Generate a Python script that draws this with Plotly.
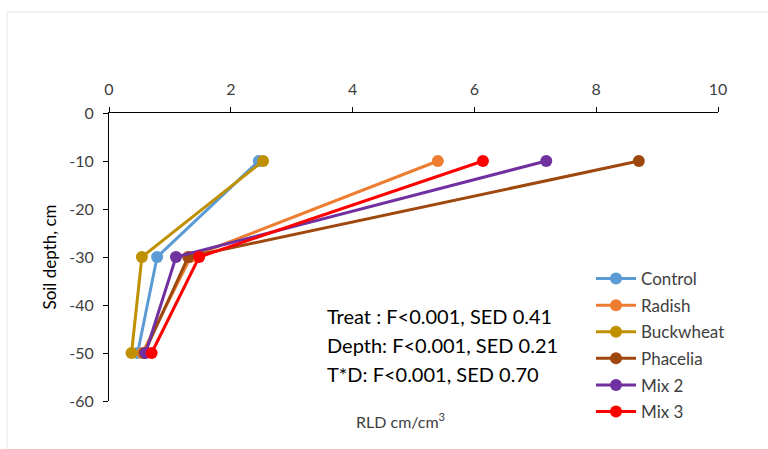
import plotly.graph_objects as go

depths = [0, -10, -30, -50]
depth_pts = [-10, -30, -50]
series_names = ["Control", "Radish", "Buckwheat", "Phacelia", "Mix 2", "Mix 3"]
control = [2.46, 0.79, 0.47]
radish = [5.40, 1.34, 0.55]
buckwheat = [2.53, 0.54, 0.37]
phacelia = [8.70, 1.30, 0.58]
mix2 = [7.18, 1.10, 0.60]
mix3 = [6.14, 1.48, 0.70]
colors = ["#5B9BD5", "#ED7D31", "#BF9000", "#9E480E", "#7030A0", "#FF0000"]
x_ticks = [0, 2, 4, 6, 8, 10]
y_ticks = [0, -10, -20, -30, -40, -50, -60]
y_ticktext = ["0", "-10", "-20", "-30", "-40", "-50", "-60"]
stats_lines = ["Treat : F<0.001, SED 0.41", "Depth: F<0.001, SED 0.21", "T*D: F<0.001, SED 0.70"]

FONT = "Lato, 'Open Sans', sans-serif"

fig = go.Figure()
for i, (name, vals) in enumerate(zip(series_names, [control, radish, buckwheat, phacelia, mix2, mix3])):
    fig.add_trace(go.Scatter(
        x=vals, y=depth_pts, mode="lines+markers", name=name,
        line=dict(color=colors[i], width=3),
        marker=dict(color=colors[i], size=12),
        legendgroup=name,
    ))

L, R, T, B = 109, 50, 113, 48
W, H = 768, 449
pw, ph = W - L - R, H - T - B

def px(xp):
    return (xp - L) / pw

def py(yp):
    return (H - B - yp) / ph

fig.update_layout(
    width=W, height=H,
    margin=dict(l=L, r=R, t=T, b=B),
    paper_bgcolor="white", plot_bgcolor="white",
    font=dict(family=FONT, size=16, color="#404040"),
    showlegend=True,
    legend=dict(x=px(591), y=py(261), xanchor="left", yanchor="top",
                font=dict(size=17, color="#404040"), tracegroupgap=1.5,
                bgcolor="rgba(0,0,0,0)", itemwidth=40),
    xaxis=dict(range=[0, 10], side="top", tickvals=x_ticks, showgrid=False, zeroline=False,
               showline=True, linecolor="#000000", linewidth=1, ticks="outside", ticklen=5,
               tickcolor="#000000", tickfont=dict(size=16, color="#404040"), ticklabelstandoff=6),
    yaxis=dict(range=[-60, 0], tickvals=y_ticks, ticktext=y_ticktext, showgrid=False, zeroline=False,
               showline=True, linecolor="#000000", linewidth=1, ticks="outside", ticklen=5,
               tickcolor="#000000", tickfont=dict(size=16, color="#404040"), ticklabelstandoff=6,
               title=dict(text="Soil depth, cm", font=dict(size=17, color="#000000"), standoff=8)),
)

for k, txt in enumerate(stats_lines):
    fig.add_annotation(xref="paper", yref="paper", x=px(325), y=py(316 + 29 * k),
                       xanchor="left", yanchor="middle", text=txt, showarrow=False,
                       font=dict(size=20, color="#000000", family=FONT))

fig.add_annotation(xref="paper", yref="paper", x=px(400), y=py(420), xanchor="center", yanchor="middle",
                   text="RLD cm/cm<sup>3</sup>", showarrow=False,
                   font=dict(size=16, color="#404040", family=FONT))

# faint outer frame
fig.add_shape(type="line", xref="paper", yref="paper", x0=px(7), x1=px(780), y0=py(12), y1=py(12),
              line=dict(color="#E6E6E6", width=1))
fig.add_shape(type="line", xref="paper", yref="paper", x0=px(7), x1=px(7), y0=py(12), y1=py(460),
              line=dict(color="#E6E6E6", width=1))

fig.write_html("out.html")
